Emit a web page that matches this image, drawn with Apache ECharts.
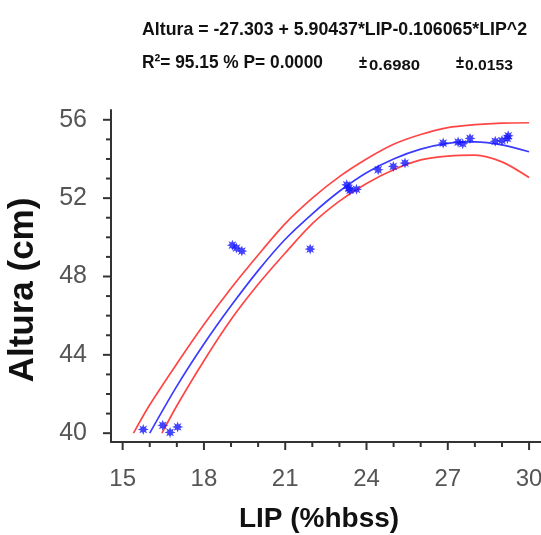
<!DOCTYPE html>
<html>
<head>
<meta charset="utf-8">
<script src="https://cdn.jsdelivr.net/npm/echarts@6/dist/echarts.min.js"></script>
<style>
html,body{margin:0;padding:0;background:#fff;}
#chart{width:541px;height:535px;}
</style>
</head>
<body>
<div id="chart"></div>
<script>
// ---- data ----
const headerLine1 = 'Altura = -27.303 + 5.90437*LIP-0.106065*LIP^2';
const headerLine2a = 'R\u00B2= 95.15 % P= 0.0000';
const headerPM = '\u00B1';
const headerSE1 = '0.6980';
const headerSE2 = '0.0153';

const xTickLabels = [15, 18, 21, 24, 27, 30];
const xMinorTicks = [15, 16, 17, 18, 19, 20, 21, 22, 23, 24, 25, 26, 27, 28, 29, 30];
const yTickLabels = [40, 44, 48, 52, 56];
const yMinorTicks = [40, 41, 42, 43, 44, 45, 46, 47, 48, 49, 50, 51, 52, 53, 54, 55, 56];

// observed points (LIP, Altura)
const obsX = [15.76, 16.48, 16.75, 17.03, 19.05, 19.2, 19.4, 21.92, 23.27, 23.35, 23.39, 23.63,
              24.43, 24.99, 25.42, 26.83, 27.38, 27.55, 27.82, 28.75, 29.0, 29.2, 29.23];
const obsY = [40.19, 40.4, 40.04, 40.32, 49.6, 49.45, 49.3, 49.4, 52.68, 52.5, 52.4, 52.45,
              53.45, 53.62, 53.79, 54.81, 54.86, 54.78, 55.05, 54.9, 54.94, 55.05, 55.18];

// fitted curve (blue)
const fitX = [16, 17, 18, 19, 20, 21, 22, 23, 24, 25, 26, 27, 28, 29, 30];
const fitY = [40.0, 42.4, 44.55, 46.5, 48.3, 49.9, 51.2, 52.35, 53.3, 54.0, 54.5, 54.8, 54.87, 54.72, 54.37];

// confidence limits (red)
const upperX = [15.4, 16, 17, 18, 19, 20, 21, 22, 23, 24, 25, 26, 27, 28, 29, 30];
const upperY = [40.0, 41.45, 43.55, 45.55, 47.4, 49.1, 50.7, 52.0, 53.1, 54.0, 54.75, 55.25, 55.6, 55.75, 55.83, 55.85];
const lowerX = [16.45, 17, 18, 19, 20, 21, 22, 23, 24, 25, 26, 27, 28, 29, 30];
const lowerY = [40.0, 41.4, 43.7, 45.8, 47.6, 49.2, 50.7, 51.85, 52.75, 53.45, 53.95, 54.15, 54.2, 53.85, 53.05];

const xName = 'LIP (%hbss)';
const yName = 'Altura (cm)';

// ---- build ----
const zip = (xs, ys) => xs.map((x, i) => [x, ys[i]]);
const starPath = 'path://M5,0 L2.3,1 L3.54,3.54 L1,2.3 L0,5 L-1,2.3 L-3.54,3.54 L-2.3,1 L-5,0 L-2.3,-1 L-3.54,-3.54 L-1,-2.3 L0,-5 L1,-2.3 L3.54,-3.54 L2.3,-1 Z';

const sans = '"Liberation Sans", Arial, sans-serif';
const axisColor = '#333';
const labelColor = '#555';
const majorLen = 8;
const minorLen = 5;

const measureCtx = document.createElement('canvas').getContext('2d');
function fitScale(text, font, targetWidth) {
  measureCtx.font = font;
  return targetWidth / measureCtx.measureText(text).width;
}
const hFont = 'bold 19px ' + sans;
const sFont = 'bold 14px ' + sans;
function hText(text, x, y, font, width) {
  return {type: 'text', x: x, y: y, scaleX: fitScale(text, font, width), scaleY: 1, silent: true,
    style: {text: text, font: font, fill: '#111', align: 'left', verticalAlign: 'middle'}};
}
const headerGraphics = [
  hText(headerLine1, 142, 30, hFont, 385),
  hText(headerLine2a, 142, 63, hFont, 181),
  hText(headerPM, 359, 63, hFont, 8),
  hText(headerSE1, 369, 66, sFont, 51),
  hText(headerPM, 456, 63, hFont, 8),
  hText(headerSE2, 465, 66, sFont, 48)
];

const chart = echarts.init(document.getElementById('chart'), null, {renderer: 'canvas'});
const xMin = 14.57, xMax = 30.44, yMin = 39.55, yMax = 56.5;

chart.setOption({
  animation: false,
  backgroundColor: '#fff',
  tooltip: {show: false},
  grid: {left: 111, right: 0, top: 110, bottom: 93, containLabel: false, outerBoundsMode: 'none'},
  xAxis: {
    type: 'value', min: xMin, max: xMax, position: 'bottom',
    name: xName, nameLocation: 'middle', nameGap: 63,
    nameTextStyle: {fontFamily: sans, fontWeight: 'bold', fontSize: 28, color: '#111', padding: [0, 14, 0, 0]},
    axisLine: {show: true, onZero: false, lineStyle: {color: axisColor, width: 2}},
    axisTick: {show: false},
    axisLabel: {show: true, customValues: xTickLabels, margin: 25, fontFamily: sans, fontSize: 24, color: labelColor},
    splitLine: {show: false}
  },
  yAxis: {
    type: 'value', min: yMin, max: yMax, position: 'left',
    name: yName, nameLocation: 'middle', nameGap: 70, nameRotate: 90,
    nameTextStyle: {fontFamily: sans, fontWeight: 'bold', fontSize: 35, color: '#111', padding: [0, 28, 0, 0]},
    axisLine: {show: true, onZero: false, lineStyle: {color: axisColor, width: 2}},
    axisTick: {show: false},
    axisLabel: {show: true, customValues: yTickLabels, margin: 24, fontFamily: sans, fontSize: 25, color: labelColor},
    splitLine: {show: false}
  },
  series: [
    {
      name: 'Upper limit', type: 'line',
      data: zip(upperX, upperY), smooth: 0.3, showSymbol: false, symbol: 'none',
      lineStyle: {color: '#ff4646', width: 1.7}, z: 2
    },
    {
      name: 'Lower limit', type: 'line',
      data: zip(lowerX, lowerY), smooth: 0.3, showSymbol: false, symbol: 'none',
      lineStyle: {color: '#ff4646', width: 1.7}, z: 2
    },
    {
      name: 'Fit', type: 'line',
      data: zip(fitX, fitY), smooth: 0.3, showSymbol: false, symbol: 'none',
      lineStyle: {color: '#3c3cff', width: 1.7}, z: 3
    },
    {
      name: 'Altura', type: 'scatter',
      data: zip(obsX, obsY), symbol: starPath, symbolSize: 11,
      itemStyle: {color: '#1414ff'}, z: 4
    }
  ]
});

// tick marks positioned through the chart's own axis scales
const tickGraphics = [];
function tickLine(x1, y1, x2, y2) {
  tickGraphics.push({type: 'line', silent: true, z: 10,
    shape: {x1: x1, y1: y1, x2: x2, y2: y2},
    style: {stroke: axisColor, lineWidth: 2}});
}
xMinorTicks.forEach(v => {
  const p = chart.convertToPixel({gridIndex: 0}, [v, yMin]);
  const len = xTickLabels.indexOf(v) >= 0 ? majorLen : minorLen;
  tickLine(p[0], p[1], p[0], p[1] + len);
});
yMinorTicks.forEach(v => {
  const p = chart.convertToPixel({gridIndex: 0}, [xMin, v]);
  const len = yTickLabels.indexOf(v) >= 0 ? majorLen : minorLen;
  tickLine(p[0] - len, p[1], p[0], p[1]);
});

chart.setOption({graphic: headerGraphics.concat(tickGraphics)});
</script>
</body>
</html>
